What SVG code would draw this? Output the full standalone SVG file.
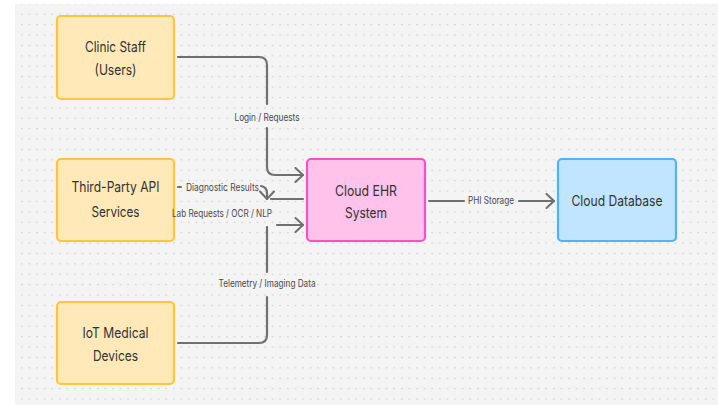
<svg xmlns="http://www.w3.org/2000/svg" width="718" height="405" viewBox="0 0 718 405">
  <defs>
    <pattern id="dots" patternUnits="userSpaceOnUse" x="18" y="9" width="7.6" height="10.4">
      <circle cx="3.8" cy="5.2" r="0.8" fill="#cbcbcb"/>
    </pattern>
    <marker id="arr" viewBox="0 0 10 16" refX="9" refY="8" markerWidth="10" markerHeight="16" markerUnits="userSpaceOnUse" orient="auto">
      <path d="M1.5,1 L9,8 L1.5,15" fill="none" stroke="#707070" stroke-width="2" stroke-linecap="round" stroke-linejoin="round"/>
    </marker>
    <style>
      .yellow { fill: #ffe9b8; stroke: #ffc53d; stroke-width: 2.2; }
      .pink { fill: #ffc2ea; stroke: #fb4fc2; stroke-width: 2.2; }
      .blue { fill: #c2e5ff; stroke: #4fb2fa; stroke-width: 2.2; }
      .nt { font-family: Inter, "Liberation Sans", sans-serif; font-size: 14.5px; fill: #333333; text-anchor: middle; }
      .et { font-family: Inter, "Liberation Sans", sans-serif; font-size: 10.3px; fill: #4a4a4a; text-anchor: middle; }
      .conn { fill: none; stroke: #707070; stroke-width: 2.2; stroke-linecap: round; stroke-linejoin: round; }
    </style>
  </defs>
  <rect x="0" y="0" width="718" height="405" fill="#ffffff"/>
  <rect x="15" y="4" width="703" height="401" fill="#f4f4f4"/>
  <rect x="15" y="4" width="703" height="401" fill="url(#dots)"/>

  <g id="clinic-staff">
    <rect class="yellow" x="57" y="16" width="117" height="83" rx="4"/>
    <text class="nt" x="115.5" y="52" textLength="61" lengthAdjust="spacingAndGlyphs">Clinic Staff</text>
    <text class="nt" x="115.5" y="75" textLength="42" lengthAdjust="spacingAndGlyphs">(Users)</text>
  </g>
  <g id="third-party-api">
    <rect class="yellow" x="57" y="159" width="117" height="82" rx="4"/>
    <text class="nt" x="115.5" y="192" textLength="88" lengthAdjust="spacingAndGlyphs">Third-Party API</text>
    <text class="nt" x="115.5" y="217" textLength="48" lengthAdjust="spacingAndGlyphs">Services</text>
  </g>
  <g id="iot-devices">
    <rect class="yellow" x="57" y="302" width="117" height="82" rx="4"/>
    <text class="nt" x="115.5" y="338" textLength="66" lengthAdjust="spacingAndGlyphs">IoT Medical</text>
    <text class="nt" x="115.5" y="361" textLength="45" lengthAdjust="spacingAndGlyphs">Devices</text>
  </g>
  <g id="cloud-ehr">
    <rect class="pink" x="307" y="159" width="118" height="82" rx="4"/>
    <text class="nt" x="366" y="195.5" textLength="62" lengthAdjust="spacingAndGlyphs">Cloud EHR</text>
    <text class="nt" x="366" y="217.5" textLength="42" lengthAdjust="spacingAndGlyphs">System</text>
  </g>
  <g id="cloud-database">
    <rect class="blue" x="558" y="159" width="118" height="82" rx="4"/>
    <text class="nt" x="617" y="206" textLength="91" lengthAdjust="spacingAndGlyphs">Cloud Database</text>
  </g>

  <g id="connectors">
    <path class="conn" d="M178,57 H259 Q267,57 267,65 V104"/>
    <path class="conn" d="M267,128 V167 Q267,175 275,175 H303" marker-end="url(#arr)"/>
    <text class="et" x="267" y="120.5" textLength="65" lengthAdjust="spacingAndGlyphs">Login / Requests</text>

    <path class="conn" d="M303,199 H271"/>
    <path class="conn" d="M178,187 H181"/>
    <path class="conn" d="M261,186 Q267,187 267,193 V199" marker-end="url(#arr)"/>
    <text class="et" x="222.5" y="190.5" textLength="73" lengthAdjust="spacingAndGlyphs">Diagnostic Results</text>

    <path class="conn" d="M277,225 H303" marker-end="url(#arr)"/>
    <text class="et" x="222" y="217" textLength="100" lengthAdjust="spacingAndGlyphs">Lab Requests / OCR / NLP</text>

    <path class="conn" d="M178,343 H259 Q267,343 267,335 V297"/>
    <path class="conn" d="M267,272 V227"/>
    <text class="et" x="267" y="287" textLength="97" lengthAdjust="spacingAndGlyphs">Telemetry / Imaging Data</text>

    <path class="conn" d="M429,201 H464"/>
    <path class="conn" d="M519,201 H554" marker-end="url(#arr)"/>
    <text class="et" x="491" y="204" textLength="46" lengthAdjust="spacingAndGlyphs">PHI Storage</text>
  </g>
</svg>
